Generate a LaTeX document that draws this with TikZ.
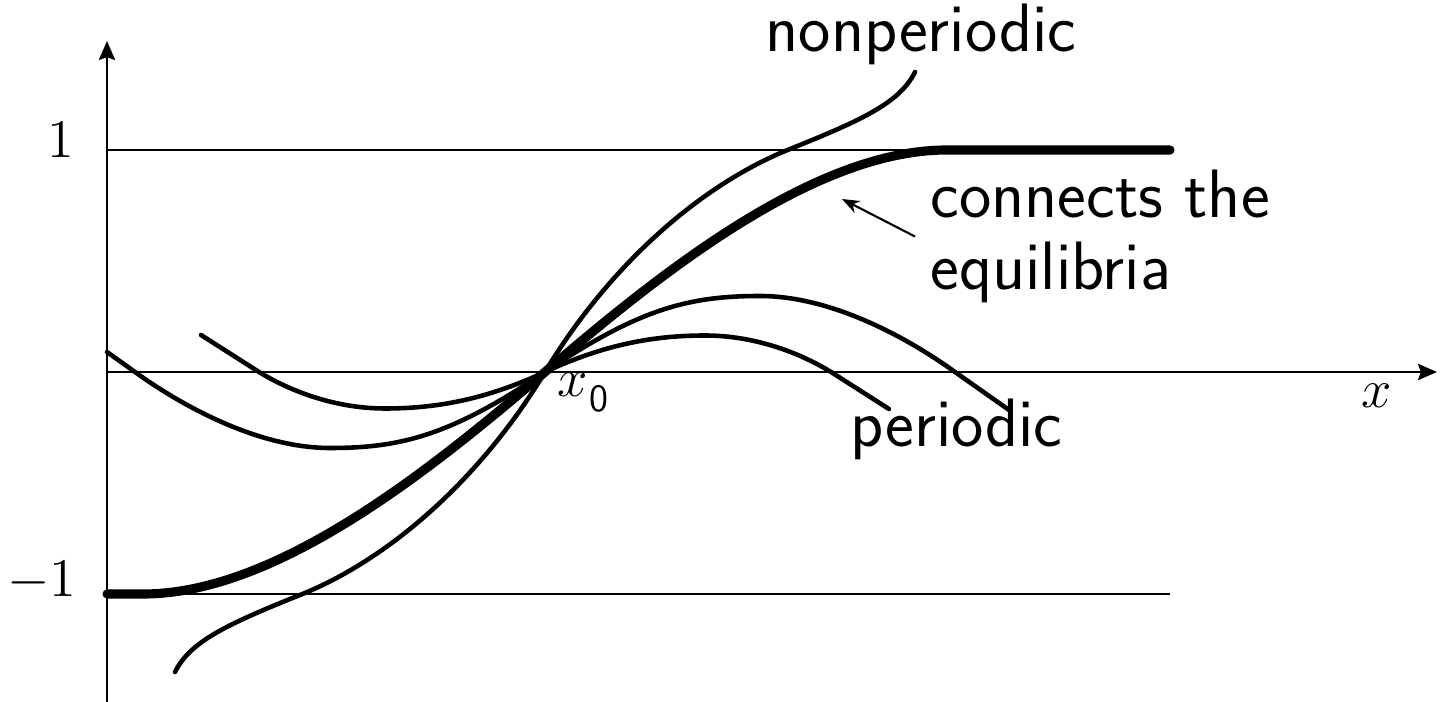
\RequirePackage{fix-cm}
\documentclass[tikz,border=0pt]{standalone}
\usepackage{fontspec}
\usepackage{amsmath}
\usepackage{tikz}
\usetikzlibrary{arrows.meta}

\begin{document}
\begin{tikzpicture}[
    >={Stealth[length=5.4pt, width=4.6pt, inset=0.8pt]},
    axis/.style={line width=0.75pt},
    orbit/.style={line width=1.3pt, line cap=round},
    sepx/.style={line width=2.6pt, line cap=round},
    txt/.style={font=\fontsize{19.5}{20.7}\selectfont\sffamily, inner sep=0pt},
    mth/.style={font=\fontsize{15.5}{18}\selectfont, inner sep=0pt}
]
\useasboundingbox (-1.07,-3.30) rectangle (13.40,3.72);

% Axes and the two equilibrium levels
\draw[axis, ->] (0,-3.30) -- (0,3.31);
\draw[axis, ->] (0,0) -- (13.30,0);
\draw[axis] (0,2.22) -- (10.63,2.22);
\draw[axis] (0,-2.22) -- (10.63,-2.22);
\node[mth, anchor=base east] (one) at (-0.32,2.14) {$1$};
\node[mth, anchor=base east] (mone) at (-0.30,-2.25) {$-1$};
\node[mth, anchor=base] (xlab) at (12.70,-0.36) {$x$};

\coordinate (x0) at (4.38,0);
\node[mth, anchor=base west] (x0lab) at (4.50,-0.25)
    {$x$\kern0.3pt\raisebox{-1.5mm}{\fontsize{11}{11}\selectfont\sffamily 0}};

% Periodic solutions (symmetric about x0)
\draw[orbit, shift={(x0)}] (-4.38,0.2) -- (-4.1,0)
    .. controls (-3.6,-0.36) and (-2.85,-0.76) .. (-2.15,-0.76)
    .. controls (-1.45,-0.76) and (-0.95,-0.64) .. (0,0)
    .. controls (0.95,0.64) and (1.45,0.76) .. (2.15,0.76)
    .. controls (2.85,0.76) and (3.6,0.36) .. (4.1,0) -- (4.64,-0.38);
\draw[orbit, shift={(x0)}] (-3.44,0.37) -- (-2.86,0)
    .. controls (-2.55,-0.19) and (-2.1,-0.365) .. (-1.6,-0.365)
    .. controls (-1.1,-0.365) and (-0.6,-0.28) .. (0,0)
    .. controls (0.6,0.28) and (1.1,0.365) .. (1.6,0.365)
    .. controls (2.1,0.365) and (2.55,0.19) .. (2.86,0) -- (3.44,-0.37);

% Nonperiodic solution
\draw[orbit, shift={(x0)}] (-3.70,-3.0)
    .. controls (-3.55,-2.7) and (-3.2,-2.53) .. (-2.45,-2.23)
    .. controls (-1.5,-1.85) and (-0.6,-1.0) .. (0,0)
    .. controls (0.6,1.0) and (1.5,1.85) .. (2.45,2.23)
    .. controls (3.2,2.53) and (3.55,2.7) .. (3.70,3.0);

% Solution connecting -1 and 1
\draw[sepx] (0,-2.22) -- (0.36,-2.22) .. controls (1.66,-2.22) and (3.16,-1.05) .. (x0)
    .. controls (5.6,1.05) and (7.1,2.22) .. (8.4,2.22) -- (10.63,2.22);

% Labels
\node[txt, anchor=base west] (nonper) at (6.58,3.20) {nonperiodic};
\node[txt, anchor=base west] (per) at (7.43,-0.75) {periodic};
\node[txt, anchor=base west, align=left] (conn) at (8.23,0.82) {connects the\\equilibria};
\coordinate (tipC) at (7.35,1.73);
\draw[line width=0.6pt, -{Stealth[length=5pt, width=3.8pt]}] ([xshift=-0.15cm]conn.west) -- (tipC);
\end{tikzpicture}
\end{document}
